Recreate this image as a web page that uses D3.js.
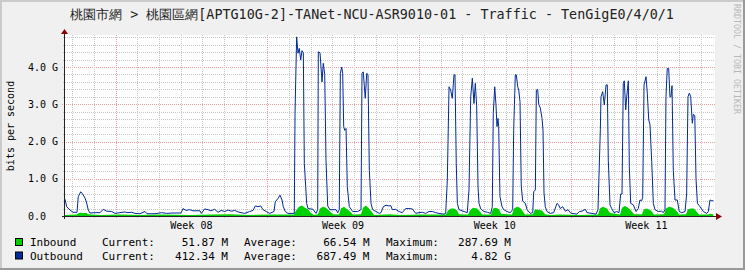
<!DOCTYPE html>
<html>
<head>
<meta charset="utf-8">
<script src="https://cdn.jsdelivr.net/npm/d3@7"></script>
<style>
  body { margin: 0; background: #f0f0f0; }
  svg { display: block; }
  text { font-family: "DejaVu Sans Mono", monospace; fill: #000; }
</style>
</head>
<body>
<div id="chart"></div>
<script>
// hours since graph start
const outHours = [0,1.9,5.5,8.9,13.3,14.7,17.4,19.6,22.2,24.0,25.8,27.7,33.2,38.8,42.4,46.2,51.7,55.4,60.9,66.5,68.7,73.9,77.5,83.1,88.6,90.8,99.7,107.1,112.7,118.5,
  128.5,130.7,134.0,138.1,141.8,149.5,151.0,154.7,158.4,161.7,165.8,169.5,173.1,176.9,180.6,184.2,188.0,191.6,195.0,199.1,204.6,208.3,210.8,213.8,216.8,219.3,223.0,226.7,231.5,
  232.9,235.9,238.2,240.4,241.8,244.0,247.0,254.0,254.8,256.6,258.1,259.5,261.1,262.5,264.0,265.1,267.7,269.2,274.7,278.0,279.9,280.6,282.5,284.7,286.1,287.7,289.1,291.0,293.5,
  300.2,302.1,303.8,305.0,306.5,307.6,308.7,309.8,311.3,312.7,314.9,318.7,324.2,327.9,329.0,330.4,332.6,334.2,335.6,337.1,339.0,340.8,344.5,348.2,350.0,352.6,355.6,358.6,360.8,
  362.6,366.3,370.0,373.6,377.4,381.0,384.7,388.5,392.1,395.8,399.5,403.2,406.9,410.6,414.3,419.8,421.7,423.5,425.4,427.2,429.0,430.9,432.0,433.4,434.6,436.4,442.0,445.6,447.5,
  449.4,451.2,453.0,454.5,456.0,457.5,458.6,460.5,464.1,467.8,471.5,473.3,474.4,476.0,477.4,478.5,479.6,480.4,481.8,484.1,485.9,489.6,493.3,495.9,497.0,498.8,499.9,501.5,502.6,
  504.0,505.4,507.0,509.9,511.8,515.4,518.1,519.2,521.0,522.1,523.6,524.7,526.5,528.4,529.5,530.6,532.0,533.9,537.6,541.3,545.0,546.8,548.6,551.3,554.2,557.2,559.7,561.6,567.1,
  569.7,572.7,576.3,578.2,583.8,588.2,590.4,593.0,593.7,595.6,597.4,599.3,600.7,601.8,603.7,605.6,608.1,611.1,613.7,615.5,617.0,618.4,619.5,621.1,622.2,624.0,625.1,626.6,629.5,
  632.5,635.0,636.9,638.8,639.9,641.4,643.6,645.0,646.6,648.0,649.9,651.7,653.5,657.2,660.9,662.7,664.6,665.7,667.1,668.7,670.1,671.2,672.4,673.8,675.7,678.2,680.4,683.1,686.8,
  688.6,690.1,691.6,693.1,694.9,696.0,697.6,699.0,700.5,703.4,707.1,710.9,712.6,714.5,716.4,718.2];

// outbound, Gbit/s
const outGbps = [0.45,0.25,0.16,0.1,0.1,0.52,0.65,0.59,0.48,0.35,0.16,0.08,0.09,0.09,0.18,0.13,0.12,0.07,0.09,0.11,0.09,0.1,0.07,0.06,0.12,0.06,0.06,0.09,0.07,0.08,
  0.08,0.2,0.15,0.17,0.14,0.14,0.07,0.19,0.17,0.14,0.18,0.1,0.15,0.12,0.16,0.13,0.15,0.11,0.09,0.07,0.12,0.15,0.27,0.25,0.27,0.17,0.12,0.07,0.12,
  0.38,0.47,0.56,0.43,0.25,0.12,0.07,0.07,2.76,4.81,4.37,4.5,4.19,4.44,4.38,1.41,0.34,0.2,0.18,0.07,0.17,4.41,4.38,3.6,4.1,3.8,1.5,0.27,0.17,
  0.17,0.09,0.17,3.83,4.0,3.83,2.4,2.3,2.35,0.79,0.25,0.12,0.12,0.17,3.83,3.87,3.16,3.83,3.8,1.23,0.33,0.17,0.12,0.07,0.09,0.25,0.29,0.27,0.28,
  0.17,0.18,0.12,0.09,0.2,0.2,0.19,0.07,0.09,0.1,0.07,0.12,0.12,0.09,0.07,0.05,0.07,0.97,3.47,3.38,3.16,3.79,3.79,1.41,0.34,0.17,0.12,0.09,0.7,
  3.2,3.7,3.02,3.56,2.95,0.79,0.34,0.19,0.12,0.1,0.07,0.25,2.76,3.47,2.98,2.4,2.62,2.4,0.52,0.25,0.17,0.12,0.09,0.17,2.3,3.79,3.79,3.47,3.38,
  3.07,0.8,0.4,0.34,0.17,0.07,0.09,0.65,0.7,3.38,3.4,3.0,2.9,2.62,2.3,0.62,0.25,0.12,0.07,0.09,0.34,0.3,0.2,0.25,0.13,0.17,0.09,0.07,0.05,
  0.12,0.13,0.18,0.09,0.07,0.05,0.17,2.33,3.2,3.34,2.98,3.52,3.52,1.5,0.3,0.2,0.09,0.12,0.09,0.59,0.59,3.56,3.63,2.85,3.2,3.63,1.32,0.34,0.3,
  0.12,0.2,0.43,0.41,0.5,3.52,3.74,3.3,2.58,2.45,1.46,0.34,0.17,0.12,0.13,0.09,0.17,3.2,3.96,3.96,3.2,3.2,3.5,1.23,0.43,0.43,0.12,0.09,0.12,
  0.59,3.2,3.3,3.2,2.49,2.73,2.7,0.98,0.34,0.25,0.12,0.07,0.12,0.43,0.41,0.41];

const inHours = [0,13.3,14.4,16.6,21.0,23.3,25.5,29.9,38.8,60.9,83.1,105.2,138.5,160.6,182.8,205.0,232.6,253.7,255.9,259.2,262.5,265.8,269.2,272.5,275.8,
  280.2,282.5,285.8,289.1,293.5,296.9,303.5,305.7,309.0,312.4,315.7,319.0,327.9,330.1,333.4,336.7,340.1,342.3,360.0,371.1,393.2,422.0,424.2,427.6,430.9,434.2,436.4,
  446.4,448.6,451.9,456.4,459.7,461.9,471.9,474.1,477.4,480.7,483.0,495.1,497.4,500.7,504.0,507.3,509.5,518.4,520.6,525.1,528.4,531.7,537.2,548.3,570.5,
  590.4,592.6,595.9,600.4,603.7,614.8,617.0,620.3,623.6,627.0,630.3,639.1,641.4,644.7,649.1,652.4,663.5,665.7,669.1,673.5,677.9,680.1,687.9,690.1,693.4,696.7,
  700.1,702.3,712.3,714.5,718.1];

// inbound, Gbit/s
const inGbps = [0.03,0.04,0.07,0.09,0.08,0.09,0.05,0.04,0.03,0.04,0.03,0.04,0.03,0.04,0.05,0.03,0.04,0.04,0.15,0.25,0.28,0.22,0.18,0.08,0.03,
  0.05,0.2,0.25,0.22,0.12,0.05,0.04,0.2,0.25,0.18,0.12,0.04,0.05,0.22,0.28,0.2,0.1,0.03,0.05,0.03,0.04,0.04,0.15,0.2,0.2,0.15,0.05,
  0.04,0.15,0.22,0.2,0.12,0.04,0.04,0.2,0.22,0.18,0.06,0.04,0.2,0.25,0.22,0.12,0.04,0.05,0.18,0.16,0.15,0.05,0.03,0.04,0.03,
  0.04,0.2,0.25,0.2,0.08,0.04,0.22,0.27,0.22,0.15,0.05,0.05,0.18,0.2,0.15,0.04,0.05,0.2,0.25,0.22,0.12,0.04,0.05,0.18,0.2,0.2,
  0.1,0.04,0.04,0.06,0.05];

const weekStarts = [56, 224, 392, 560];          // Monday 00:00, hours since start
const weekLabels = ["Week 08", "Week 09", "Week 10", "Week 11"];
const yMajor = [0, 1, 2, 3, 4];
const yLabels = ["0.0", "1.0 G", "2.0 G", "3.0 G", "4.0 G"];

const legendNames = ["Inbound", "Outbound"];
const legendCurrent = ["51.87 M", "412.34 M"];
const legendAverage = ["66.54 M", "687.49 M"];
const legendMaximum = ["287.69 M", "4.82 G"];

const title = "桃園市網 > 桃園區網[APTG10G-2]-TANet-NCU-ASR9010-01 - Traffic - TenGigE0/4/0/1";

const inColor = "#00cf00";
const outColor = "#002a97";

const width = 745, height = 270;
const plot = { left: 65, right: 715, top: 35, bottom: 216 };

const svg = d3.select("#chart").append("svg")
  .attr("width", width)
  .attr("height", height);

// background + 3d border
svg.append("rect").attr("width", width).attr("height", height).attr("fill", "#f0f0f0");
svg.append("path").attr("d", `M0,0H${width}V2H2V${height}H0Z`).attr("fill", "#cbcbcb");
svg.append("path").attr("d", `M${width},0V${height}H0V${height - 2}H${width - 2}V0Z`).attr("fill", "#999");

const x = d3.scaleLinear().domain([0, 720]).range([plot.left, plot.right]);
const y = d3.scaleLinear().domain([0, 4.86]).range([plot.bottom, plot.top]);

svg.append("rect")
  .attr("x", plot.left - 1).attr("y", plot.top)
  .attr("width", plot.right - plot.left + 1).attr("height", plot.bottom - plot.top)
  .attr("fill", "#fff");

const grid = svg.append("g").attr("shape-rendering", "crispEdges");

// horizontal grid
const yMinor = d3.range(1, 25).map(i => i * 0.2).filter(v => Math.abs(v - Math.round(v)) > 0.01);
grid.selectAll(".hmin").data(yMinor).enter().append("line")
  .attr("x1", plot.left - 2).attr("x2", plot.right)
  .attr("y1", d => Math.round(y(d)) + 0.5).attr("y2", d => Math.round(y(d)) + 0.5)
  .attr("stroke", "#c8c8c8").attr("stroke-dasharray", "1,1");
grid.selectAll(".hmaj").data(yMajor.slice(1)).enter().append("line")
  .attr("x1", plot.left - 3).attr("x2", plot.right)
  .attr("y1", d => Math.round(y(d)) + 0.5).attr("y2", d => Math.round(y(d)) + 0.5)
  .attr("stroke", "#e8a0a0").attr("stroke-dasharray", "1,1");

// vertical grid: days and weeks
const days = d3.range(weekStarts[0] % 24, 720, 24).filter(h => !weekStarts.includes(h));
grid.selectAll(".vmin").data(days).enter().append("line")
  .attr("x1", d => Math.round(x(d)) + 0.5).attr("x2", d => Math.round(x(d)) + 0.5)
  .attr("y1", plot.top).attr("y2", plot.bottom + 2)
  .attr("stroke", "#c8c8c8").attr("stroke-dasharray", "1,1");
grid.selectAll(".vmaj").data(weekStarts).enter().append("line")
  .attr("x1", d => Math.round(x(d)) + 0.5).attr("x2", d => Math.round(x(d)) + 0.5)
  .attr("y1", plot.top).attr("y2", plot.bottom + 3)
  .attr("stroke", "#e8a0a0").attr("stroke-dasharray", "1,1");

// inbound area
const area = d3.area()
  .x(i => x(inHours[i]))
  .y0(y(0))
  .y1(i => y(inGbps[i]));
svg.append("path").attr("d", area(d3.range(inHours.length))).attr("fill", inColor);

// outbound line
const line = d3.line()
  .x(i => x(outHours[i]))
  .y(i => y(outGbps[i]));
svg.append("path").attr("d", line(d3.range(outHours.length)))
  .attr("fill", "none").attr("stroke", outColor).attr("stroke-width", 1);

// axes
svg.append("line").attr("x1", plot.left - 0.5).attr("x2", plot.left - 0.5)
  .attr("y1", plot.bottom + 3).attr("y2", plot.top - 2).attr("stroke", "#222");
svg.append("line").attr("x1", plot.left - 3).attr("x2", plot.right + 2)
  .attr("y1", plot.bottom + 0.5).attr("y2", plot.bottom + 0.5).attr("stroke", "#222");
svg.append("path").attr("d", `M${plot.left - 4},${plot.top - 1}L${plot.left + 3},${plot.top - 1}L${plot.left - 0.5},${plot.top - 6}Z`)
  .attr("fill", "#8b0000");
svg.append("path").attr("d", `M${plot.right + 1},${plot.bottom - 3}L${plot.right + 1},${plot.bottom + 4}L${plot.right + 7},${plot.bottom + 0.5}Z`)
  .attr("fill", "#8b0000");

// y tick labels
svg.selectAll(".ylab").data(yMajor).enter().append("text")
  .attr("x", 28).attr("y", d => y(d) + 3.5)
  .attr("font-size", 10)
  .text((d, i) => yLabels[i]);

// week labels, centred in each week
svg.selectAll(".xlab").data(weekStarts).enter().append("text")
  .attr("x", d => x(d + 84)).attr("y", plot.bottom + 13)
  .attr("text-anchor", "middle").attr("font-size", 10)
  .text((d, i) => weekLabels[i]);

// titles
svg.append("text").attr("x", 372).attr("y", 19).attr("text-anchor", "middle")
  .attr("font-size", 13.4).style("fill", "#222").text(title);

svg.append("text").attr("transform", "translate(14,126) rotate(-90)")
  .attr("text-anchor", "middle").attr("font-size", 10).text("bits per second");

svg.append("text").attr("transform", "translate(734,4) rotate(90)")
  .attr("font-size", 8.3).style("fill", "#b8b8b8").text("RRDTOOL / TOBI OETIKER");

// legend
const legendColors = [inColor, outColor];
const rows = svg.selectAll(".leg").data(legendNames).enter().append("g")
  .attr("transform", (d, i) => `translate(0,${246 + i * 13.5})`);
rows.append("rect").attr("x", 15.5).attr("y", -7.5).attr("width", 7).attr("height", 7)
  .attr("fill", (d, i) => legendColors[i]).attr("stroke", "#000");
rows.append("text").attr("x", 30).attr("font-size", 11).text(d => d);
rows.append("text").attr("x", 102).attr("font-size", 11).text("Current:");
rows.append("text").attr("x", 228).attr("font-size", 11).attr("text-anchor", "end").text((d, i) => legendCurrent[i]);
rows.append("text").attr("x", 244).attr("font-size", 11).text("Average:");
rows.append("text").attr("x", 369.5).attr("font-size", 11).attr("text-anchor", "end").text((d, i) => legendAverage[i]);
rows.append("text").attr("x", 386).attr("font-size", 11).text("Maximum:");
rows.append("text").attr("x", 511).attr("font-size", 11).attr("text-anchor", "end").text((d, i) => legendMaximum[i]);
</script>
</body>
</html>
